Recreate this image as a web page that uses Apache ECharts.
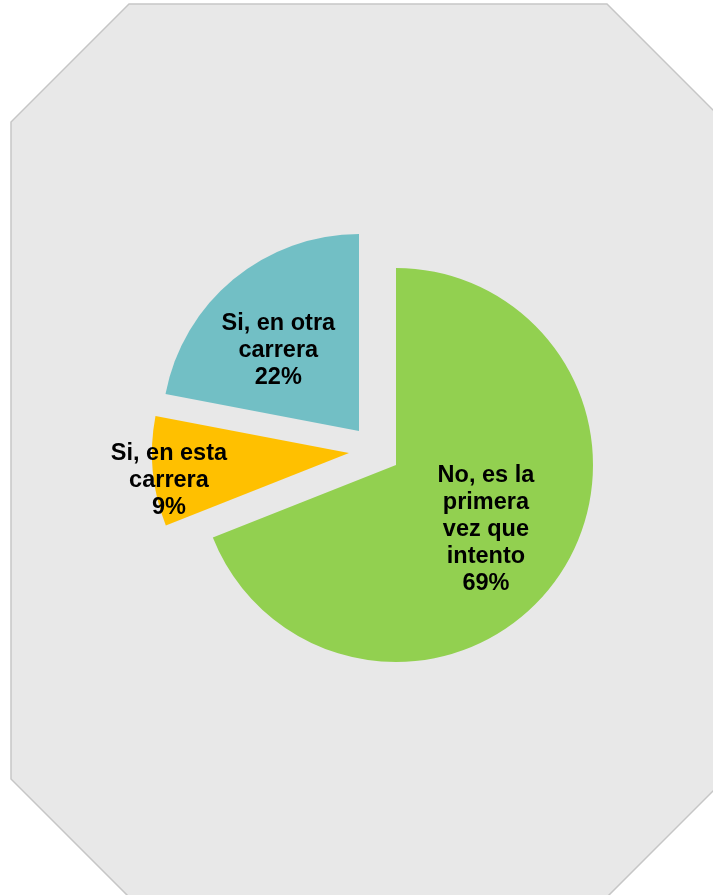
<!DOCTYPE html>
<html>
<head>
<meta charset="utf-8">
<script src="https://cdn.jsdelivr.net/npm/echarts@6/dist/echarts.min.js"></script>
<style>
html,body{margin:0;padding:0;background:#ffffff;}
#chart{width:713px;height:895px;}
</style>
</head>
<body>
<div id="chart"></div>
<script>
const categories = ["No, es la primera vez que intento", "Si, en esta carrera", "Si, en otra carrera"];
const labelText = ["No, es la\nprimera\nvez que\nintento", "Si, en esta\ncarrera", "Si, en otra\ncarrera"];
const values = [69, 9, 22];
const colors = ["#92d050", "#ffc000", "#72bfc5"];

// exploded slice placement (Excel-like)
const centers = [[396, 465], [349, 453], [359, 431]];
const labelShift = [[6, 7], [-79, 18], [-16, -2]];

const chart = echarts.init(document.getElementById('chart'), null, {renderer: 'canvas'});

const series = categories.map(function (cat, i) {
  return {
    type: 'pie',
    radius: 197,
    center: centers[i],
    startAngle: 90,
    clockwise: true,
    silent: true,
    animation: false,
    avoidLabelOverlap: false,
    emphasis: {disabled: true},
    labelLine: {show: false},
    label: {
      show: true,
      position: 'inside',
      fontFamily: 'Liberation Sans, Arial, sans-serif',
      fontWeight: 'bold',
      fontSize: 23.5,
      lineHeight: 27,
      color: '#000000',
      align: 'center'
    },
    labelLayout: function (p) {
      if (p.dataIndex !== i) return {};
      return {dx: labelShift[i][0], dy: labelShift[i][1]};
    },
    data: categories.map(function (c, j) {
      return {
        name: c,
        value: values[j],
        itemStyle: {color: j === i ? colors[j] : 'rgba(0,0,0,0)', borderWidth: 0},
        label: j === i ? {
          show: true,
          formatter: function (prm) { return labelText[prm.dataIndex] + '\n' + Math.round(prm.percent) + '%'; }
        } : {show: false}
      };
    })
  };
});

chart.setOption({
  backgroundColor: '#ffffff',
  graphic: [{
    type: 'polygon',
    z: -10,
    silent: true,
    shape: {points: [[129,4],[607,4],[725,122],[725,779],[607,897],[129,897],[11,779],[11,122]]},
    style: {fill: '#e8e8e8', stroke: '#c6c6c6', lineWidth: 1.5}
  }],
  series: series
});
</script>
</body>
</html>
